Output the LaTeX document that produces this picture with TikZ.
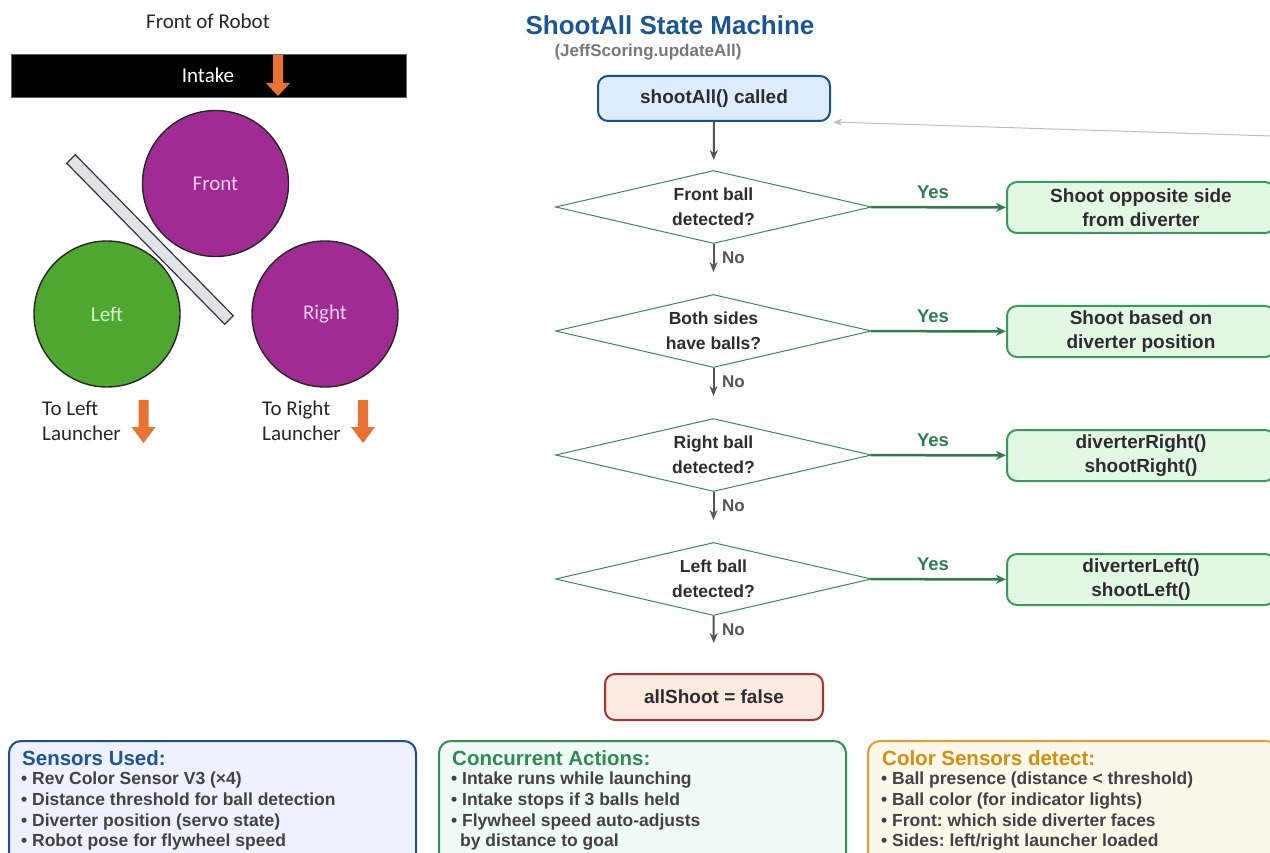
\documentclass[tikz,border=0pt]{standalone}
\usepackage{fontspec}
\setmainfont{Liberation Sans}
\newfontfamily\calfont{Carlito}
\usetikzlibrary{arrows.meta,shapes.geometric}
\frenchspacing
\definecolor{ttlblue}{RGB}{26,85,150}
\definecolor{txtdark}{RGB}{45,45,45}
\definecolor{subgray}{RGB}{120,120,120}
\definecolor{startfill}{RGB}{221,237,251}
\definecolor{startborder}{RGB}{31,78,140}
\definecolor{decborder}{RGB}{58,138,90}
\definecolor{yesgreen}{RGB}{46,125,79}
\definecolor{actfill}{RGB}{227,247,229}
\definecolor{actborder}{RGB}{58,154,90}
\definecolor{arrowgray}{RGB}{85,85,85}
\definecolor{fbgray}{RGB}{190,190,190}
\definecolor{endfill}{RGB}{251,234,226}
\definecolor{endborder}{RGB}{176,48,48}
\definecolor{sensfill}{RGB}{238,242,253}
\definecolor{sensborder}{RGB}{31,78,140}
\definecolor{senstitle}{RGB}{31,84,150}
\definecolor{concfill}{RGB}{240,251,243}
\definecolor{concborder}{RGB}{58,138,90}
\definecolor{conctitle}{RGB}{46,139,87}
\definecolor{colfill}{RGB}{253,248,236}
\definecolor{colborder}{RGB}{224,160,48}
\definecolor{coltitle}{RGB}{212,144,10}
\definecolor{ballpurple}{RGB}{160,43,147}
\definecolor{ballgreen}{RGB}{78,167,46}
\definecolor{arroworange}{RGB}{233,113,50}
\definecolor{pinktxt}{RGB}{242,207,238}
\definecolor{greentxt}{RGB}{216,242,200}
\definecolor{barfill}{RGB}{225,228,230}
\newcommand{\orangearrow}[4]{% cx, top, headstart, tip
  \fill[arroworange] (#1-5,#2) -- (#1+5,#2) -- (#1+5,#3) -- (#1+12,#3) -- (#1,#4) -- (#1-12,#3) -- (#1-5,#3) -- cycle;}
\tikzset{
  cal/.style={font=\calfont\fontsize{21}{24}\selectfont, inner sep=0pt},
  ball/.style={circle, draw=black!85, line width=1.4pt, minimum size=146pt, inner sep=0pt, font=\calfont\fontsize{21}{24}\selectfont},
  flow/.style={font=\bfseries\fontsize{19}{24}\selectfont, text=txtdark, align=center},
  startbox/.style={flow, draw=startborder, fill=startfill, line width=2pt, rounded corners=10pt, minimum width=232pt, minimum height=45pt, inner sep=0pt},
  dec/.style={flow, font=\bfseries\fontsize{17.5}{25}\selectfont, diamond, draw=decborder, fill=white, line width=1pt, aspect=4.33, minimum width=316pt, minimum height=73pt, inner sep=0pt},
  actbox/.style={flow, draw=actborder, fill=actfill, line width=2pt, rounded corners=10pt, minimum width=268pt, minimum height=51pt, inner sep=0pt, anchor=west},
  endbox/.style={flow, draw=endborder, fill=endfill, line width=2pt, rounded corners=10pt, minimum width=218pt, minimum height=46pt, inner sep=0pt},
  grayarrow/.style={draw=arrowgray, line width=2pt, -{Stealth[length=10pt,width=8pt]}},
  yesarrow/.style={draw=yesgreen, line width=2.5pt, -{Stealth[length=10pt,width=9pt]}},
  fbarrow/.style={draw=fbgray, line width=1pt, -{Stealth[length=9pt,width=7pt]}},
  yeslbl/.style={font=\bfseries\fontsize{18.5}{20}\selectfont, text=yesgreen, inner sep=0pt},
  nolbl/.style={font=\bfseries\fontsize{17}{20}\selectfont, text=arrowgray, inner sep=0pt, anchor=west},
  infobox/.style={line width=2pt, rounded corners=12pt, minimum height=130pt, inner sep=0pt, anchor=north west},
  infotitle/.style={font=\bfseries\fontsize{20.5}{22}\selectfont, inner sep=0pt, anchor=base west},
  infoitem/.style={font=\bfseries\fontsize{17.5}{21}\selectfont, text=txtdark!90, inner sep=0pt, anchor=base west},
}
\begin{document}
\begin{tikzpicture}[x=1pt,y=-1pt]
\useasboundingbox (0,0) rectangle (1270,853);
\clip (0,0) rectangle (1270,853);
% ---------- left panel ----------
\node[cal, text=black!85] (frontrobot) at (208,21) {Front of Robot};
\node[draw=black!60, fill=black, minimum width=395pt, minimum height=43pt, inner sep=0pt, anchor=north west] (intakebar) at (11,54) {};
\node[cal, text=white] (intaketxt) at (208,75) {Intake};
\orangearrow{278}{55}{83}{96}
\node[ball, fill=ballpurple, text=pinktxt] (front) at (215.5,183.5) {Front};
\node[ball, fill=ballgreen, text=greentxt] (left) at (107,314) {Left};
\node[ball, fill=ballpurple, text=pinktxt] (right) at (325,314) {Right};
\draw[fill=barfill, draw=black!80, line width=1.2pt] (66.7,163.2) -- (75.3,154.8) -- (233.3,315.8) -- (224.7,324.2) -- cycle;
\node[cal, text=black!85, anchor=base west] (tl1) at (42,415) {To Left};
\node[cal, text=black!85, anchor=base west] (tl2) at (42,440) {Launcher};
\orangearrow{143.5}{400}{427}{443}
\node[cal, text=black!85, anchor=base west] (tr1) at (262,415) {To Right};
\node[cal, text=black!85, anchor=base west] (tr2) at (262,440) {Launcher};
\orangearrow{363}{400}{427}{443}
% ---------- flowchart ----------
\node[font=\bfseries\fontsize{26}{28}\selectfont, text=ttlblue, inner sep=0pt] (title) at (670,25) {ShootAll State Machine};
\node[font=\bfseries\fontsize{17}{18}\selectfont, text=subgray, inner sep=0pt] (subtitle) at (648,52) {(JeffScoring.updateAll)};
\node[startbox] (start) at (714,98.5) {shootAll() called};
\node[dec] (d1) at (713.5,207) {Front ball\\detected?};
\node[dec] (d2) at (713.5,331) {Both sides\\have balls?};
\node[dec] (d3) at (713.5,455) {Right ball\\detected?};
\node[dec] (d4) at (713.5,579) {Left ball\\detected?};
\node[actbox] (a1) at (1006,207.5) {Shoot opposite side\\from diverter};
\node[actbox] (a2) at (1006,331.5) {Shoot based on\\diverter position};
\node[actbox] (a3) at (1006,455.5) {diverterRight()\\shootRight()};
\node[actbox] (a4) at (1006,579.5) {diverterLeft()\\shootLeft()};
\node[endbox] (end) at (714,697) {allShoot = false};
\draw[grayarrow, shorten >=10pt] (start) -- (d1);
\draw[grayarrow, shorten >=22pt] (d1) -- (d2);
\draw[grayarrow, shorten >=22pt] (d2) -- (d3);
\draw[grayarrow, shorten >=22pt] (d3) -- (d4);
\draw[grayarrow, shorten >=30pt] (d4) -- (end);
\node[nolbl] (no1) at (722,258) {No};
\node[nolbl] (no2) at (722,382) {No};
\node[nolbl] (no3) at (722,506) {No};
\node[nolbl] (no4) at (722,630) {No};
\draw[yesarrow] (d1) -- (a1);
\draw[yesarrow] (d2) -- (a2);
\draw[yesarrow] (d3) -- (a3);
\draw[yesarrow] (d4) -- (a4);
\node[yeslbl] (y1) at (933,192) {Yes};
\node[yeslbl] (y2) at (933,316) {Yes};
\node[yeslbl] (y3) at (933,440) {Yes};
\node[yeslbl] (y4) at (933,564) {Yes};
\coordinate (fb) at (1272,136);
\draw[fbarrow] (fb) -- ([xshift=2pt]start.south east);
% ---------- info boxes ----------
\node[infobox, draw=sensborder, fill=sensfill, minimum width=407pt] (sens) at (8,740) {};
\node[infotitle, text=senstitle] (senst) at (22,765) {Sensors Used:};
\node[infoitem] (s1) at (21,784) {• Rev Color Sensor V3 (×4)};
\node[infoitem] (s2) at (21,805) {• Distance threshold for ball detection};
\node[infoitem] (s3) at (21,826) {• Diverter position (servo state)};
\node[infoitem] (s4) at (21,846) {• Robot pose for flywheel speed};
\node[infobox, draw=concborder, fill=concfill, minimum width=407pt] (conc) at (438,740) {};
\node[infotitle, text=conctitle] (conct) at (452,765) {Concurrent Actions:};
\node[infoitem] (c1) at (451,784) {• Intake runs while launching};
\node[infoitem] (c2) at (451,805) {• Intake stops if 3 balls held};
\node[infoitem] (c3) at (451,826) {• Flywheel speed auto-adjusts};
\node[infoitem] (c4) at (460,846) {by distance to goal};
\node[infobox, draw=colborder, fill=colfill, minimum width=410pt] (col) at (867,740) {};
\node[infotitle, text=coltitle] (colt) at (882,765) {Color Sensors detect:};
\node[infoitem] (k1) at (881,784) {• Ball presence (distance < threshold)};
\node[infoitem] (k2) at (881,805) {• Ball color (for indicator lights)};
\node[infoitem] (k3) at (881,826) {• Front: which side diverter faces};
\node[infoitem] (k4) at (881,846) {• Sides: left/right launcher loaded};
\end{tikzpicture}
\end{document}
